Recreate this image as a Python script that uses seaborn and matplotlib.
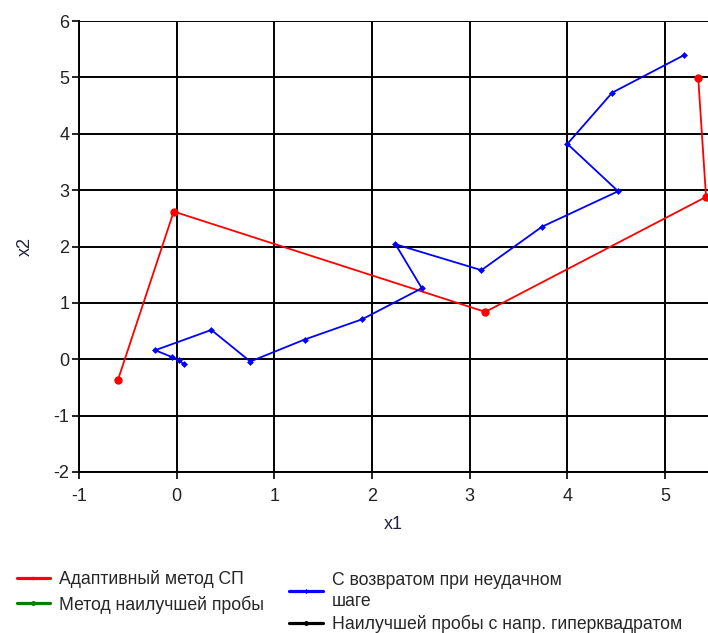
import numpy as np
import pandas as pd
import matplotlib
matplotlib.use("Agg")
import matplotlib.pyplot as plt
import seaborn as sns

# Search trajectories in the (x1, x2) plane
adaptive_x1 = [-0.60, -0.03, 3.16, 5.42, 5.34]
adaptive_x2 = [-0.36, 2.62, 0.84, 2.88, 4.99]

best_probe_x1 = []
best_probe_x2 = []

return_x1 = [0.075, 0.02, -0.05, -0.22, 0.355, 0.754, 1.31, 1.90, 2.51, 2.24,
             3.12, 3.74, 4.52, 4.00, 4.46, 5.19]
return_x2 = [-0.09, -0.02, 0.04, 0.16, 0.52, -0.04, 0.35, 0.71, 1.26, 2.04,
             1.58, 2.35, 2.98, 3.82, 4.73, 5.39]

hypercube_x1 = []
hypercube_x2 = []

series_labels = [
    "Адаптивный метод СП",
    "Метод наилучшей пробы",
    "С возвратом при неудачном\nшаге",
    "Наилучшей пробы с напр. гиперквадратом",
]

x_ticks = [-1, 0, 1, 2, 3, 4, 5]
y_ticks = [-2, -1, 0, 1, 2, 3, 4, 5, 6]

sns.set_style("white")
plt.rcParams["font.family"] = ["Liberation Sans", "DejaVu Sans"]
plt.rcParams["axes.unicode_minus"] = False

fig = plt.figure(figsize=(7.08, 6.33), dpi=100)
ax = fig.add_axes([79 / 708, 1 - 472 / 633, 1 - 79 / 708, (472 - 21) / 633])

sns.lineplot(x=adaptive_x1, y=adaptive_x2, sort=False, ax=ax, color="#ff0000",
             marker="o", markersize=6, markeredgewidth=0, linewidth=1.3,
             label=series_labels[0])
ax.plot(best_probe_x1, best_probe_x2, color="#008000", marker="o",
        markersize=2, linewidth=2.2, label=series_labels[1])
sns.lineplot(x=return_x1, y=return_x2, sort=False, ax=ax, color="#0000ff",
             marker="D", markersize=3.5, markeredgewidth=0, linewidth=1.3,
             label=series_labels[2])
ax.plot(hypercube_x1, hypercube_x2, color="#000000", marker="o",
        markersize=2, linewidth=2.2, label=series_labels[3])

ax.set_xlim(-1, 5.44)
ax.set_ylim(-2, 6)
ax.set_xticks(x_ticks)
ax.set_yticks(y_ticks)
ax.grid(True, color="black", linewidth=1.4)
ax.set_axisbelow(True)
for side in ("top", "right"):
    ax.spines[side].set_visible(False)
for side in ("left", "bottom"):
    ax.spines[side].set_color("black")
    ax.spines[side].set_linewidth(1.4)
ax.tick_params(axis="both", which="major", direction="out", length=5,
               width=1.2, color="black", labelsize=13, labelcolor="#222222",
               left=True, bottom=True, pad=2)
ax.tick_params(axis="x", pad=6.5)

ax.set_xlabel("x1", fontsize=13, color="#222244", labelpad=8)
ax.set_ylabel("x2", fontsize=13, color="#222244", labelpad=14)

handles, labels = ax.get_legend_handles_labels()
ax.get_legend().remove()

legend_style = dict(loc="upper left", frameon=False, fontsize=12.7,
                    handlelength=1.9, handletextpad=0.5)

# Legend laid out as two independent columns under the axes
left_col = fig.legend(handles[:2], labels[:2],
                      bbox_to_anchor=(0.001, 1 - 554 / 633),
                      labelspacing=0.42, **legend_style)
right_col = fig.legend(handles[2:], labels[2:],
                       bbox_to_anchor=(273.5 / 708, 1 - 556 / 633),
                       labelspacing=0.3, **legend_style)
for leg in (left_col, right_col):
    for line in leg.get_lines():
        line.set_linewidth(2.3)
        line.set_markersize(2.5)
right_col.get_texts()[0].set_linespacing(1.3)

fig.savefig("out.png", dpi=100)
